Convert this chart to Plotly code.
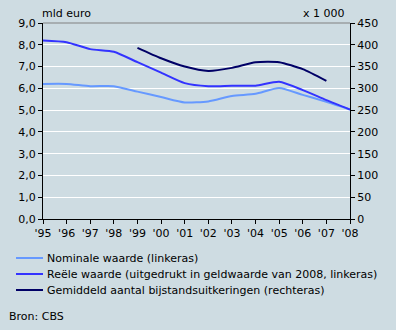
import plotly.graph_objects as go

years = list(range(1995, 2009))
tick_labels = ["'95", "'96", "'97", "'98", "'99", "'00", "'01", "'02", "'03", "'04", "'05", "'06", "'07", "'08"]
nominaal = [6.2, 6.2, 6.1, 6.1, 5.85, 5.6, 5.35, 5.4, 5.65, 5.75, 6.02, 5.7, 5.38, 5.03]
reeel = [8.2, 8.12, 7.8, 7.68, 7.2, 6.72, 6.24, 6.1, 6.12, 6.12, 6.3, 5.92, 5.46, 5.03]
bijstand_years = list(range(1999, 2008))
bijstand = [393, 369, 350, 340, 347, 360, 360, 344, 317]

series_names = ["Nominale waarde (linkeras)",
                "Reële waarde (uitgedrukt in geldwaarde van 2008, linkeras)",
                "Gemiddeld aantal bijstandsuitkeringen (rechteras)"]
series_colors = ["#6699FF", "#3333FF", "#000066"]

bg = "#CEDCE2"
font = dict(family="DejaVu Sans", size=11, color="#000000")

W, H = 396, 330
L, R, T, B = 43, 46, 23, 111
pw, ph = W - L - R, H - T - B


def px_x(p):
    return (p - L) / pw


def px_y(p):
    return (H - B - p) / ph


fig = go.Figure()
fig.add_trace(go.Scatter(x=years, y=nominaal, mode="lines", name=series_names[0],
                         line=dict(color=series_colors[0], width=2, shape="spline", smoothing=0.6)))
fig.add_trace(go.Scatter(x=years, y=reeel, mode="lines", name=series_names[1],
                         line=dict(color=series_colors[1], width=2, shape="spline", smoothing=0.6)))
fig.add_trace(go.Scatter(x=bijstand_years, y=bijstand, mode="lines", yaxis="y2",
                         name=series_names[2],
                         line=dict(color=series_colors[2], width=2, shape="spline", smoothing=0.6)))

shapes = [dict(type="line", xref="paper", yref="paper", x0=0, x1=1, y0=1, y1=1,
               line=dict(color="#808080", width=1))]
annotations = [
    dict(text="mld euro", xref="paper", yref="paper", x=px_x(40), y=1.0, xanchor="left",
         yanchor="bottom", showarrow=False, font=font, yshift=1),
    dict(text="x 1 000", xref="paper", yref="paper", x=px_x(347), y=1.0, xanchor="right",
         yanchor="bottom", showarrow=False, font=font, yshift=1),
    dict(text="Bron: CBS", xref="paper", yref="paper", x=px_x(7), y=px_y(316), xanchor="left",
         yanchor="middle", showarrow=False, font=font),
]
for i, (name, col) in enumerate(zip(series_names, series_colors)):
    yy = px_y(258 + 16 * i)
    shapes.append(dict(type="line", xref="paper", yref="paper", x0=px_x(16), x1=px_x(43),
                       y0=yy, y1=yy, line=dict(color=col, width=2)))
    annotations.append(dict(text=name, xref="paper", yref="paper", x=px_x(45), y=yy,
                            xanchor="left", yanchor="middle", showarrow=False, font=font))

fig.update_layout(
    width=W, height=H,
    margin=dict(l=L, r=R, t=T, b=B),
    paper_bgcolor=bg, plot_bgcolor=bg,
    font=font,
    separators=",.",
    showlegend=False,
    xaxis=dict(range=[1995, 2008], tickvals=years, ticktext=tick_labels, showgrid=False,
               showline=True, linecolor="#000000", linewidth=1, ticks="outside", ticklen=4,
               tickcolor="#000000", zeroline=False, fixedrange=True),
    yaxis=dict(range=[0, 9], dtick=1, tickformat=".1f", showgrid=True, gridcolor="#FFFFFF",
               gridwidth=1, showline=True, linecolor="#000000", linewidth=1, ticks="outside",
               ticklen=4, tickcolor="#000000", zeroline=False),
    yaxis2=dict(range=[0, 450], dtick=50, overlaying="y", side="right", showgrid=False,
                showline=True, linecolor="#000000", linewidth=1, ticks="outside", ticklen=4,
                tickcolor="#000000", zeroline=False),
    shapes=shapes,
    annotations=annotations,
)

fig.write_html("out.html")
